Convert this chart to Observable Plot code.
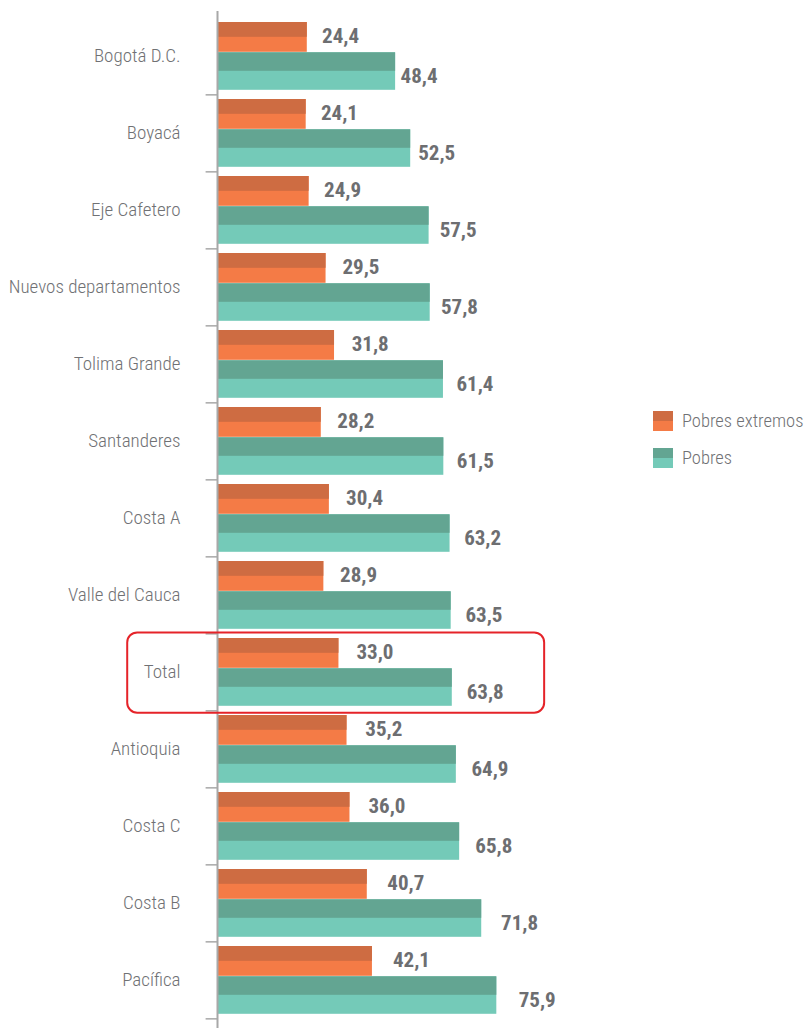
<!DOCTYPE html>
<html><head><meta charset="utf-8">
<script src="https://cdn.jsdelivr.net/npm/d3@7"></script>
<script src="https://cdn.jsdelivr.net/npm/@observablehq/plot@0.6"></script>
<style>
html,body{margin:0;padding:0;background:#fff;overflow:hidden;}
#wrap{position:relative;width:807px;height:1028px;}
.legend{position:absolute;left:653px;top:402px;font-family:"Roboto Condensed","DejaVu Sans Condensed",sans-serif;font-size:18.5px;font-weight:300;color:#707174;white-space:nowrap;}
.item{display:flex;align-items:center;height:37px;}
.sw{width:20px;height:20px;margin-right:9px;flex:none;}
</style></head><body><div id="wrap"></div>
<script>
const categories = ["Bogotá D.C.","Boyacá","Eje Cafetero","Nuevos departamentos","Tolima Grande","Santanderes","Costa A","Valle del Cauca","Total","Antioquia","Costa C","Costa B","Pacífica"];
const pobresExtremos = [24.4,24.1,24.9,29.5,31.8,28.2,30.4,28.9,33.0,35.2,36.0,40.7,42.1];
const pobres = [48.4,52.5,57.5,57.8,61.4,61.5,63.2,63.5,63.8,64.9,65.8,71.8,75.9];
const seriesNames = ["Pobres extremos","Pobres"];
const highlighted = ["Total"];

const orangeDark = "#ce6c42", orangeLight = "#f47b46";
const tealDark = "#63a592", tealLight = "#74cab8";
const textGray = "#6d6e71", labelGray = "#707174", axisGray = "#a8a8a8";

const data = categories.map((c,i)=>({cat:c, pe:pobresExtremos[i], p:pobres[i]}));
const fmt = v => d3.format(".1f")(v).replace(".", ",");

const H = 1028, mt = 12.3, mb = 5.6;
const bw = (H - mt - mb) / categories.length;
const font = "'Roboto Condensed','DejaVu Sans Condensed',sans-serif";

const chart = Plot.plot({
  width: 807, height: H,
  marginLeft: 217, marginRight: 222, marginTop: mt, marginBottom: mb,
  style: {fontFamily: font, fontSize: "19px", fontWeight: 300, color: labelGray, background: "white"},
  x: {domain: [0, 100], range: [217, 585], axis: null},
  y: {domain: categories, padding: 0, tickSize: 0, tickPadding: 37, label: null},
  marks: [
    Plot.barX(data, {y: "cat", x1: 0, x2: "pe", fill: orangeLight, insetTop: 5, insetBottom: bw - 35.5}),
    Plot.barX(data, {y: "cat", x1: 0, x2: "pe", fill: orangeDark, insetTop: 5, insetBottom: bw - 20.5}),
    Plot.barX(data, {y: "cat", x1: 0, x2: "p", fill: tealLight, insetTop: 35.3, insetBottom: bw - 73.5}),
    Plot.barX(data, {y: "cat", x1: 0, x2: "p", fill: tealDark, insetTop: 35.3, insetBottom: bw - 54.5}),
    Plot.ruleX([0], {stroke: axisGray, strokeWidth: 2, insetTop: -1.3, insetBottom: -mb}),
    Plot.ruleY(categories, {y: d => d, dy: bw / 2, x1: -3.1, x2: 0, stroke: axisGray, strokeWidth: 1.5}),
    Plot.text(data, {y: "cat", x: d => d.pe * 1.087, text: d => fmt(d.pe), dx: 7, dy: 19.6 - bw / 2,
      textAnchor: "start", fontWeight: "bold", fontSize: 21, fill: textGray}),
    Plot.text(data, {y: "cat", x: d => d.p * 1.168, text: d => fmt(d.p), dx: -25, dy: 59.5 - bw / 2,
      textAnchor: "start", fontWeight: "bold", fontSize: 21, fill: textGray}),
    Plot.barX(highlighted, {y: d => d, x1: -24.4, x2: 88.9, fill: "none", stroke: "#e52329", strokeWidth: 2,
      rx: 10, insetTop: -0.6, insetBottom: -2.7})
  ]
});
const wrap = document.getElementById("wrap");
wrap.appendChild(chart);

const legend = document.createElement("div");
legend.className = "legend";
const swatches = [[orangeDark, orangeLight], [tealDark, tealLight]];
seriesNames.forEach((name, i) => {
  const item = document.createElement("div");
  item.className = "item";
  const sw = document.createElement("div");
  sw.className = "sw";
  sw.style.background = `linear-gradient(to bottom, ${swatches[i][0]} 50%, ${swatches[i][1]} 50%)`;
  const t = document.createElement("span");
  t.textContent = name;
  item.appendChild(sw); item.appendChild(t);
  legend.appendChild(item);
});
wrap.appendChild(legend);
</script></body></html>
